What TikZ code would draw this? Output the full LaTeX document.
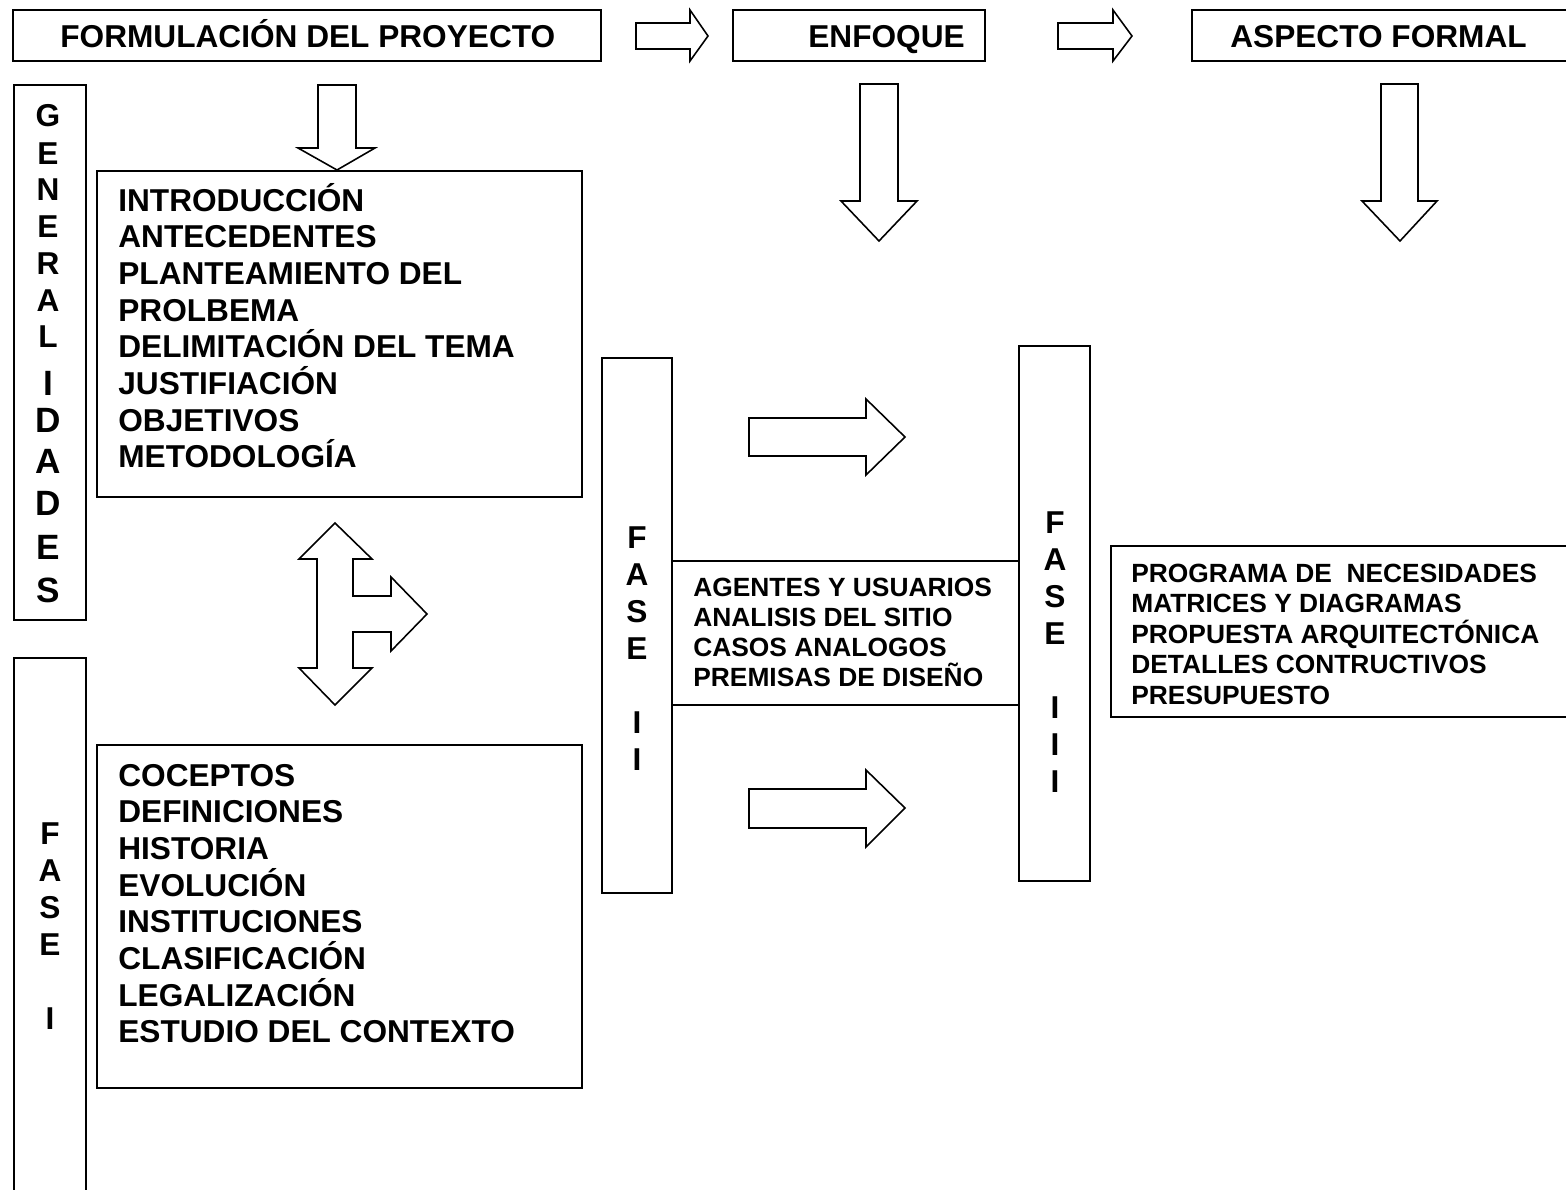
\documentclass[tikz,border=0pt]{standalone}
\usepackage{fontspec}
\setmainfont{Liberation Sans}

\tikzset{
    caja/.style={draw, line width=0.9pt},
    flecha/.style={draw, line width=0.9pt, fill=white, line join=miter},
    titulo/.style={anchor=base west, inner sep=0pt, font=\bfseries\fontsize{18}{20}\selectfont},
    lista/.style={anchor=base west, inner sep=0pt, font=\bfseries\fontsize{18}{20}\selectfont},
    listachica/.style={anchor=base west, inner sep=0pt, font=\bfseries\fontsize{15}{17}\selectfont},
    letra/.style={anchor=base, inner sep=0pt, font=\bfseries\fontsize{18}{20}\selectfont},
    letragrande/.style={letra, font=\bfseries\fontsize{20}{22}\selectfont},
}

\begin{document}
\begin{tikzpicture}[x=0.02cm,y=-0.02cm]
        % Background
        \useasboundingbox (0,0) rectangle (1566,1190);
        \fill[white] (0,0) rectangle (1566,1190);

        % Titles
        \draw[caja] (13,10) rectangle (601,61);
        \draw[caja] (733,10) rectangle (985,61);
        \draw[caja] (1192,10) rectangle (1580,61);
        \node[titulo] (formulacion) at (60,48) {FORMULACIÓN DEL PROYECTO};
        \node[titulo] (enfoque) at (808,48) {ENFOQUE};
        \node[titulo] (aspecto) at (1230,48) {ASPECTO FORMAL};

        % Phases
        \draw[caja] (14,85) rectangle (86,620);
        \draw[caja] (14,658) rectangle (86,1200);
        \draw[caja] (602,358) rectangle (672,893);
        \draw[caja] (1019,346) rectangle (1090,881);
        \foreach \l/\y [count=\i] in {G/115,E/153,N/189,E/226,R/263,A/300,L/336} {
            \node[letra] (gen\i) at (48,\y+11) {\l};
        }
        \foreach \l/\y [count=\i] in {I/383,D/420,A/461,D/503,E/547,S/590} {
            \node[letragrande] (gengr\i) at (48,\y+12) {\l};
        }
        \foreach \l/\y [count=\i] in {F/833,A/870,S/907,E/944,I/1018} {
            \node[letra] (faseuno\i) at (50,\y+11) {\l};
        }
        \foreach \l/\y [count=\i] in {F/537,A/574,S/611,E/648,I/722,I/759} {
            \node[letra] (fasedos\i) at (637,\y+11) {\l};
        }
        \foreach \l/\y [count=\i] in {F/522,A/559,S/596,E/633,I/707,I/744,I/781} {
            \node[letra] (fasetres\i) at (1055,\y+11) {\l};
        }

        % Contents
        \draw[caja] (97,171) rectangle (582,497);
        \draw[caja] (97,745) rectangle (582,1088);
        \draw[caja] (672,561) -- (1019,561);
        \draw[caja] (672,705) -- (1019,705);
        \draw[caja] (1111,546) rectangle (1580,717);
        \foreach \t [count=\i] in {INTRODUCCIÓN,ANTECEDENTES,PLANTEAMIENTO DEL,PROLBEMA,DELIMITACIÓN DEL TEMA,JUSTIFIACIÓN,OBJETIVOS,METODOLOGÍA} {
            \node[lista] (intro\i) at (118,{211+36.7*(\i-1)}) {\t};
        }
        \foreach \t [count=\i] in {COCEPTOS,DEFINICIONES,HISTORIA,EVOLUCIÓN,INSTITUCIONES,CLASIFICACIÓN,LEGALIZACIÓN,ESTUDIO DEL CONTEXTO} {
            \node[lista] (teoria\i) at (118,{786+36.7*(\i-1)}) {\t};
        }
        \foreach \t [count=\i] in {AGENTES Y USUARIOS,ANALISIS DEL SITIO,CASOS ANALOGOS,PREMISAS DE DISEÑO} {
            \node[listachica] (sitio\i) at (693,{596+30*(\i-1)}) {\t};
        }
        \foreach \t [count=\i] in {PROGRAMA DE \ NECESIDADES,MATRICES Y DIAGRAMAS,PROPUESTA ARQUITECTÓNICA,DETALLES CONTRUCTIVOS,PRESUPUESTO} {
            \node[listachica] (diseno\i) at (1131,{582+30.5*(\i-1)}) {\t};
        }

        % Arrows
        \draw[flecha] (636,23) -- (690,23) -- (690,10) -- (708,36) -- (690,61) -- (690,49) -- (636,49) -- cycle;
        \draw[flecha] (1058,23) -- (1113,23) -- (1113,10) -- (1132,36) -- (1113,61) -- (1113,49) -- (1058,49) -- cycle;
        \draw[flecha] (318,85) -- (356,85) -- (356,148) -- (375,148) -- (337,170) -- (298,148) -- (318,148) -- cycle;
        \draw[flecha] (860,84) -- (898,84) -- (898,201) -- (917,201) -- (879,241) -- (841,201) -- (860,201) -- cycle;
        \draw[flecha] (1381,84) -- (1418,84) -- (1418,201) -- (1437,201) -- (1400,241) -- (1362,201) -- (1381,201) -- cycle;
        \draw[flecha] (749,418) -- (866,418) -- (866,399) -- (905,437) -- (866,475) -- (866,456) -- (749,456) -- cycle;
        \draw[flecha] (749,789) -- (866,789) -- (866,770) -- (905,808) -- (866,847) -- (866,828) -- (749,828) -- cycle;
        \draw[flecha] (335,523) -- (372,559) -- (353,559) -- (353,596) -- (391,596) -- (391,577) -- (427,614)
            -- (391,651) -- (391,632) -- (353,632) -- (353,668) -- (372,668) -- (335,705) -- (299,668)
            -- (317,668) -- (317,559) -- (299,559) -- cycle;

\end{tikzpicture}
\end{document}
